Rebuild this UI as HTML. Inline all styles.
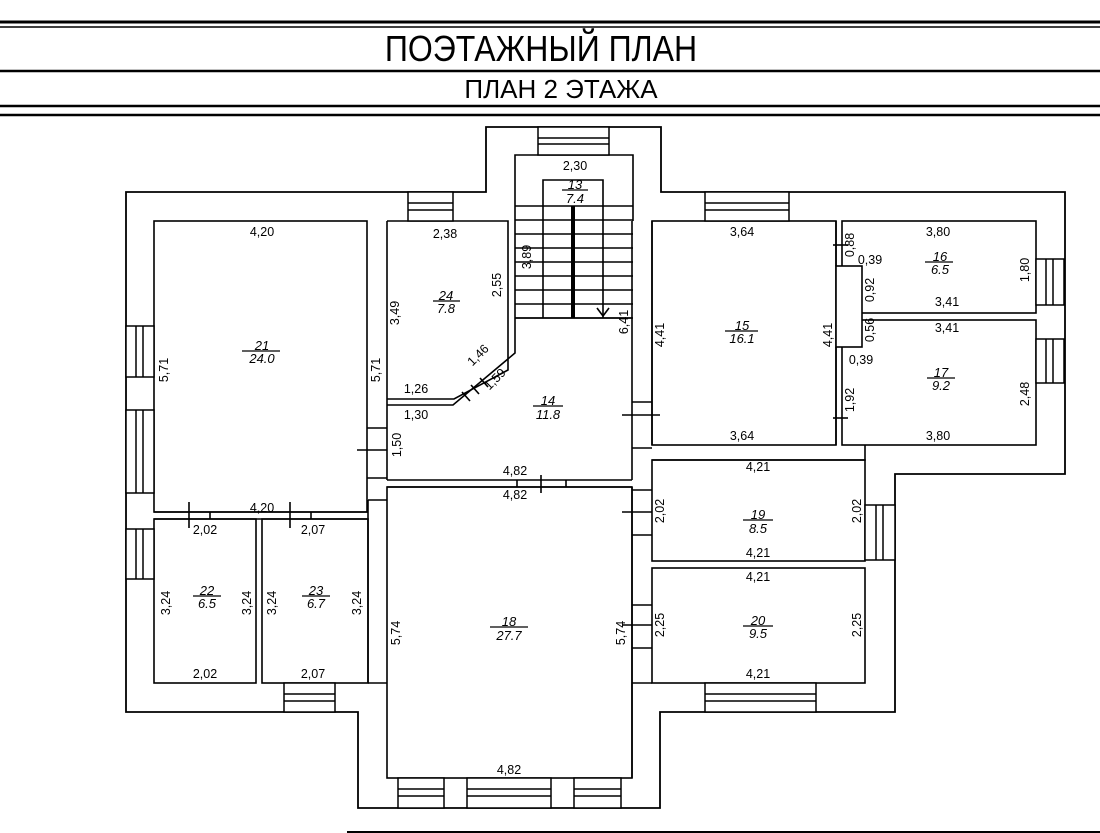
<!DOCTYPE html>
<html><head><meta charset="utf-8"><style>
html,body{margin:0;padding:0;background:#fff;}
svg{display:block;}
text{font-family:"Liberation Sans",sans-serif;fill:#000;}
.d{font-size:12.5px;text-anchor:middle;}
.t{font-size:13px;text-anchor:middle;font-style:italic;}
</style></head><body>
<svg width="1100" height="833" viewBox="0 0 1100 833" xmlns="http://www.w3.org/2000/svg">
<g stroke="#000" fill="none">
<line x1="0" y1="22" x2="1100" y2="22" stroke-width="3"/>
<line x1="0" y1="27" x2="1100" y2="27" stroke-width="1.5"/>
<line x1="0" y1="71" x2="1100" y2="71" stroke-width="2.5"/>
<line x1="0" y1="106" x2="1100" y2="106" stroke-width="2.5"/>
<line x1="0" y1="115" x2="1100" y2="115" stroke-width="2.5"/>
<polygon stroke-width="1.8" points="126,192 486,192 486,127 661,127 661,192 1065,192 1065,474 895,474 895,712 660,712 660,808 358,808 358,712 126,712"/>
<g stroke-width="1.6">
<polyline points="515,318 515,155 633,155 633,221"/>
<polyline points="543,206 543,180 603,180 603,318"/>
<line x1="543" y1="206" x2="543" y2="318"/>
<line x1="515" y1="206" x2="633" y2="206"/><line x1="515" y1="220" x2="633" y2="220"/>
<line x1="515" y1="234" x2="633" y2="234"/><line x1="515" y1="248" x2="633" y2="248"/>
<line x1="515" y1="262" x2="633" y2="262"/><line x1="515" y1="276" x2="633" y2="276"/>
<line x1="515" y1="290" x2="633" y2="290"/><line x1="515" y1="304" x2="633" y2="304"/>
<line x1="515" y1="318" x2="633" y2="318"/>
<line x1="573" y1="206" x2="573" y2="318" stroke-width="4"/>
<polyline points="597,308 603,316 609,308"/>
<rect x="154" y="221" width="213" height="291"/>
<line x1="154" y1="519" x2="367" y2="519"/>
<line x1="387" y1="221" x2="387" y2="480"/>
<line x1="367" y1="428" x2="387" y2="428"/><line x1="367" y1="478" x2="387" y2="478"/>
<line x1="357" y1="450" x2="387" y2="450"/>
<polyline points="387,221 508,221 508,370 454,399 387,399"/>
<polyline points="387,405 453,405 515,353 515,318"/>
<line x1="462" y1="392" x2="470" y2="401"/><line x1="480" y1="378" x2="488" y2="387"/>
<line x1="471" y1="385" x2="479" y2="394"/>
<line x1="515" y1="318" x2="632" y2="318"/>
<line x1="632" y1="221" x2="632" y2="480"/>
<line x1="387" y1="480" x2="632" y2="480"/>
<line x1="387" y1="487" x2="632" y2="487"/>
<line x1="541" y1="475" x2="541" y2="493"/><line x1="566" y1="480" x2="566" y2="487"/><line x1="517" y1="480" x2="517" y2="487"/>
<line x1="652" y1="221" x2="652" y2="445"/>
<line x1="632" y1="402" x2="652" y2="402"/><line x1="632" y1="448" x2="652" y2="448"/>
<line x1="622" y1="415" x2="660" y2="415"/>
<rect x="652" y="221" width="184" height="224"/>
<rect x="842" y="221" width="194" height="92"/>
<rect x="842" y="320" width="194" height="125"/>
<rect x="836" y="266" width="26" height="81" fill="#fff"/>
<line x1="833" y1="245" x2="848" y2="245"/><line x1="833" y1="418" x2="848" y2="418"/>
<line x1="836" y1="221" x2="836" y2="266"/><line x1="836" y1="347" x2="836" y2="445"/>
<polyline points="652,460 865,460 865,445"/>
<rect x="652" y="460" width="213" height="101"/>
<rect x="652" y="568" width="213" height="115"/>
<line x1="632" y1="487" x2="632" y2="778"/>
<line x1="632" y1="490" x2="652" y2="490"/><line x1="632" y1="535" x2="652" y2="535"/>
<line x1="622" y1="512" x2="652" y2="512"/>
<line x1="632" y1="605" x2="652" y2="605"/><line x1="632" y1="648" x2="652" y2="648"/>
<line x1="622" y1="625" x2="652" y2="625"/>
<rect x="154" y="519" width="102" height="164"/>
<rect x="262" y="519" width="106" height="164"/>
<line x1="154" y1="512" x2="368" y2="512"/>
<line x1="189" y1="502" x2="189" y2="528"/><line x1="290" y1="502" x2="290" y2="528"/>
<line x1="210" y1="512" x2="210" y2="519"/><line x1="311" y1="512" x2="311" y2="519"/>
<line x1="368" y1="500" x2="387" y2="500"/>
<line x1="368" y1="500" x2="368" y2="683"/>
<line x1="368" y1="683" x2="387" y2="683"/>
<line x1="632" y1="683" x2="652" y2="683"/>
<rect x="387" y="487" width="245" height="291"/>
</g>
<g stroke-width="1.5" fill="#fff">
<rect x="538" y="127" width="71" height="28"/><line x1="538" y1="138" x2="609" y2="138"/><line x1="538" y1="144" x2="609" y2="144"/>
<rect x="408" y="192" width="45" height="29"/><line x1="408" y1="203" x2="453" y2="203"/><line x1="408" y1="210" x2="453" y2="210"/>
<rect x="705" y="192" width="84" height="29"/><line x1="705" y1="203" x2="789" y2="203"/><line x1="705" y1="210" x2="789" y2="210"/>
<rect x="126" y="326" width="28" height="51"/><line x1="136" y1="326" x2="136" y2="377"/><line x1="143" y1="326" x2="143" y2="377"/>
<rect x="126" y="410" width="28" height="83"/><line x1="136" y1="410" x2="136" y2="493"/><line x1="143" y1="410" x2="143" y2="493"/>
<rect x="126" y="529" width="28" height="50"/><line x1="136" y1="529" x2="136" y2="579"/><line x1="143" y1="529" x2="143" y2="579"/>
<rect x="1036" y="259" width="28" height="46"/><line x1="1046" y1="259" x2="1046" y2="305"/><line x1="1053" y1="259" x2="1053" y2="305"/>
<rect x="1036" y="339" width="28" height="44"/><line x1="1046" y1="339" x2="1046" y2="383"/><line x1="1053" y1="339" x2="1053" y2="383"/>
<rect x="865" y="505" width="30" height="55"/><line x1="876" y1="505" x2="876" y2="560"/><line x1="883" y1="505" x2="883" y2="560"/>
<rect x="284" y="683" width="51" height="29"/><line x1="284" y1="694" x2="335" y2="694"/><line x1="284" y1="701" x2="335" y2="701"/>
<rect x="705" y="683" width="111" height="29"/><line x1="705" y1="694" x2="816" y2="694"/><line x1="705" y1="701" x2="816" y2="701"/>
<rect x="398" y="778" width="46" height="30"/><line x1="398" y1="789" x2="444" y2="789"/><line x1="398" y1="796" x2="444" y2="796"/>
<rect x="467" y="778" width="84" height="30"/><line x1="467" y1="789" x2="551" y2="789"/><line x1="467" y1="796" x2="551" y2="796"/>
<rect x="574" y="778" width="47" height="30"/><line x1="574" y1="789" x2="621" y2="789"/><line x1="574" y1="796" x2="621" y2="796"/>
</g>
<line x1="347" y1="832" x2="1100" y2="832" stroke-width="2"/>
<g stroke-width="1.2">
<line x1="562" y1="190" x2="588" y2="190"/>
<line x1="433" y1="301" x2="460" y2="301"/>
<line x1="242" y1="351" x2="280" y2="351"/>
<line x1="533" y1="406" x2="563" y2="406"/>
<line x1="725" y1="331" x2="758" y2="331"/>
<line x1="925" y1="262" x2="953" y2="262"/>
<line x1="927" y1="378" x2="955" y2="378"/>
<line x1="743" y1="520" x2="773" y2="520"/>
<line x1="743" y1="626" x2="773" y2="626"/>
<line x1="193" y1="596" x2="221" y2="596"/>
<line x1="302" y1="596" x2="330" y2="596"/>
<line x1="490" y1="627" x2="528" y2="627"/>
</g>
</g>
<text transform="translate(541,61) scale(0.89,1)" style="font-size:36px;text-anchor:middle">ПОЭТАЖНЫЙ ПЛАН</text>
<text x="561" y="98" style="font-size:26px;text-anchor:middle">ПЛАН 2 ЭТАЖА</text>
<text class="t" x="575" y="189">13</text><text class="t" x="575" y="203">7.4</text>
<text class="t" x="446" y="300">24</text><text class="t" x="446" y="313">7.8</text>
<text class="t" x="262" y="350">21</text><text class="t" x="262" y="363">24.0</text>
<text class="t" x="548" y="405">14</text><text class="t" x="548" y="419">11.8</text>
<text class="t" x="742" y="330">15</text><text class="t" x="742" y="343">16.1</text>
<text class="t" x="940" y="261">16</text><text class="t" x="940" y="274">6.5</text>
<text class="t" x="941" y="377">17</text><text class="t" x="941" y="390">9.2</text>
<text class="t" x="758" y="519">19</text><text class="t" x="758" y="533">8.5</text>
<text class="t" x="758" y="625">20</text><text class="t" x="758" y="638">9.5</text>
<text class="t" x="207" y="595">22</text><text class="t" x="207" y="608">6.5</text>
<text class="t" x="316" y="595">23</text><text class="t" x="316" y="608">6.7</text>
<text class="t" x="509" y="626">18</text><text class="t" x="509" y="640">27.7</text>
<g class="d">
<text class="d" x="575" y="170">2,30</text>
<text class="d" x="262" y="236">4,20</text>
<text class="d" x="445" y="238">2,38</text>
<text class="d" x="742" y="236">3,64</text>
<text class="d" x="938" y="236">3,80</text>
<text class="d" x="870" y="264">0,39</text>
<text class="d" x="947" y="306">3,41</text>
<text class="d" x="947" y="332">3,41</text>
<text class="d" x="861" y="364">0,39</text>
<text class="d" x="742" y="440">3,64</text>
<text class="d" x="938" y="440">3,80</text>
<text class="d" x="416" y="393">1,26</text>
<text class="d" x="416" y="419">1,30</text>
<text class="d" x="515" y="475">4,82</text>
<text class="d" x="515" y="499">4,82</text>
<text class="d" x="758" y="471">4,21</text>
<text class="d" x="758" y="557">4,21</text>
<text class="d" x="758" y="581">4,21</text>
<text class="d" x="262" y="512">4,20</text>
<text class="d" x="205" y="534">2,02</text>
<text class="d" x="313" y="534">2,07</text>
<text class="d" x="205" y="678">2,02</text>
<text class="d" x="313" y="678">2,07</text>
<text class="d" x="758" y="678">4,21</text>
<text class="d" x="509" y="774">4,82</text>
<text class="d" transform="translate(531,257) rotate(-90)">3,89</text>
<text class="d" transform="translate(501,285) rotate(-90)">2,55</text>
<text class="d" transform="translate(399,313) rotate(-90)">3,49</text>
<text class="d" transform="translate(628,322) rotate(-90)">6,41</text>
<text class="d" transform="translate(664,335) rotate(-90)">4,41</text>
<text class="d" transform="translate(832,335) rotate(-90)">4,41</text>
<text class="d" transform="translate(854,245) rotate(-90)">0,88</text>
<text class="d" transform="translate(874,290) rotate(-90)">0,92</text>
<text class="d" transform="translate(874,330) rotate(-90)">0,56</text>
<text class="d" transform="translate(854,400) rotate(-90)">1,92</text>
<text class="d" transform="translate(1029,270) rotate(-90)">1,80</text>
<text class="d" transform="translate(1029,394) rotate(-90)">2,48</text>
<text class="d" transform="translate(168,370) rotate(-90)">5,71</text>
<text class="d" transform="translate(380,370) rotate(-90)">5,71</text>
<text class="d" transform="translate(401,445) rotate(-90)">1,50</text>
<text class="d" transform="translate(481,358) rotate(-45)">1,46</text>
<text class="d" transform="translate(498,382) rotate(-45)">1,59</text>
<text class="d" transform="translate(664,511) rotate(-90)">2,02</text>
<text class="d" transform="translate(861,511) rotate(-90)">2,02</text>
<text class="d" transform="translate(170,603) rotate(-90)">3,24</text>
<text class="d" transform="translate(251,603) rotate(-90)">3,24</text>
<text class="d" transform="translate(276,603) rotate(-90)">3,24</text>
<text class="d" transform="translate(361,603) rotate(-90)">3,24</text>
<text class="d" transform="translate(400,633) rotate(-90)">5,74</text>
<text class="d" transform="translate(625,633) rotate(-90)">5,74</text>
<text class="d" transform="translate(664,625) rotate(-90)">2,25</text>
<text class="d" transform="translate(861,625) rotate(-90)">2,25</text>
</g>
</svg>
</body></html>
